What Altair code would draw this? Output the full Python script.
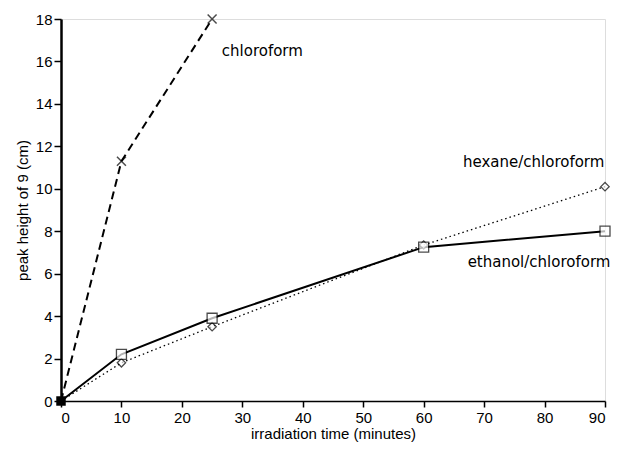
import altair as alt
import pandas as pd

time = [0, 10, 25, 60, 90]
chloroform_t = [0, 10, 25]
chloroform_v = [0, 11.3, 18.0]
ethanol_v = [0, 2.2, 3.9, 7.25, 8.0]
hexane_v = [0, 1.8, 3.5, 7.35, 10.1]

label_text = ["chloroform", "hexane/chloroform", "ethanol/chloroform"]
label_x = [26.6, 89.9, 90.9]
label_y = [16.5, 11.25, 6.55]
label_side = ["left", "right", "right"]

FONT = "DejaVu Sans"
XSHAPE = "M -1 -1 L 1 1 M -1 1 L 1 -1"

chl = pd.DataFrame({"t": chloroform_t, "v": chloroform_v})
eth = pd.DataFrame({"t": time, "v": ethanol_v})
hex_ = pd.DataFrame({"t": time, "v": hexane_v})
labs = pd.DataFrame({"text": label_text, "x": label_x, "y": label_y, "side": label_side})

xs = alt.X("t:Q", scale=alt.Scale(domain=[0, 90], nice=False),
           axis=alt.Axis(values=list(range(0, 91, 10)), title="irradiation time (minutes)",
                         grid=False, domainWidth=1.5, tickWidth=1.5, tickSize=6,
                         domainColor="black", tickColor="black",
                         labelFontSize=15, titleFontSize=15, titleFontWeight="normal",
                         labelPadding=3, titlePadding=1))
ys = alt.Y("v:Q", scale=alt.Scale(domain=[0, 18], nice=False),
           axis=alt.Axis(values=list(range(0, 19, 2)), title="peak height of 9 (cm)",
                         grid=False, domainWidth=2.5, tickWidth=1.5, tickSize=7,
                         domainColor="black", tickColor="black",
                         labelFontSize=15, titleFontSize=15, titleFontWeight="normal",
                         labelPadding=2, titlePadding=5))

base_chl = alt.Chart(chl).encode(x=xs, y=ys)
base_eth = alt.Chart(eth).encode(x=xs, y=ys)
base_hex = alt.Chart(hex_).encode(x=xs, y=ys)

l_chl = base_chl.mark_line(color="black", strokeWidth=2, strokeDash=[8, 5])
p_chl = alt.Chart(chl[chl["t"] > 0]).mark_point(shape=XSHAPE, size=80, color="black",
                                                filled=False, strokeWidth=1.5).encode(x=xs, y=ys)
l_eth = base_eth.mark_line(color="black", strokeWidth=2)
p_eth = alt.Chart(eth[eth["t"] > 0]).mark_point(shape="square", size=100, color="black",
                                                fill="white", filled=False, strokeWidth=1.3).encode(x=xs, y=ys)
l_hex = base_hex.mark_line(color="black", strokeWidth=1.3, strokeDash=[1.5, 3])
p_hex = alt.Chart(hex_[hex_["t"] > 0]).mark_point(shape="diamond", size=70, color="black",
                                                  fill="white", filled=False, strokeWidth=1.3).encode(x=xs, y=ys)
p_orig = alt.Chart(eth[eth["t"] == 0]).mark_point(shape="square", size=90, color="black",
                                                  filled=True, opacity=1).encode(x=xs, y=ys)

texts_l = alt.Chart(labs[labs["side"] == "left"]).mark_text(
    font=FONT, fontSize=15, color="black", baseline="middle", align="left").encode(
    x=alt.X("x:Q"), y=alt.Y("y:Q"), text="text:N")
texts_r = alt.Chart(labs[labs["side"] == "right"]).mark_text(
    font=FONT, fontSize=15, color="black", baseline="middle", align="right").encode(
    x=alt.X("x:Q"), y=alt.Y("y:Q"), text="text:N")

chart = alt.layer(l_chl, l_hex, l_eth, p_hex, p_eth, p_chl, p_orig, texts_l, texts_r).properties(
    width=544, height=382,
    autosize=alt.AutoSizeParams(type="none"),
    padding={"left": 53, "top": 11, "right": 18, "bottom": 44},
).configure_view(stroke=None).configure_axis(
    labelFont=FONT, titleFont=FONT, domainColor="black", tickColor="black",
    labelColor="black", titleColor="black"
).configure(background="white")

chart.save("out.html", embed_options={"renderer": "svg", "actions": False})
